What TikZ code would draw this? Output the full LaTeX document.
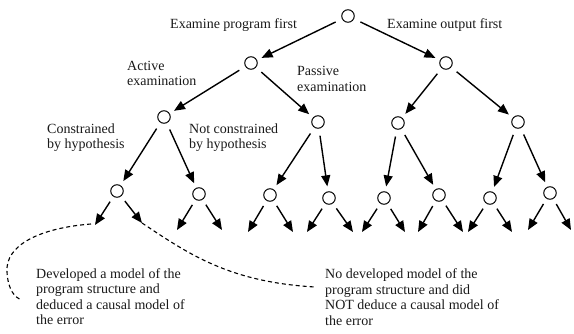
\documentclass[tikz,border=0pt]{standalone}
\usepackage{fontspec}
\setmainfont{Liberation Serif}
\usetikzlibrary{arrows.meta}
\begin{document}
\begin{tikzpicture}[x=1pt,y=-1pt,
  st/.style={circle,draw,line width=1pt,minimum size=12.5pt,inner sep=0pt},
  edge/.style={line width=1.4pt,-{Triangle[length=11pt,width=9pt]},shorten <=7pt,shorten >=5pt},
  leafedge/.style={line width=1.4pt,-{Triangle[length=11pt,width=9pt]},shorten <=6pt},
  lbl/.style={font=\fontsize{14}{15.5}\selectfont,inner sep=0pt,anchor=west,align=left,text=black!90},
  dashcurve/.style={line width=1.1pt,dash pattern=on 4pt off 3pt}
]
\useasboundingbox (0,0) rectangle (574,334);
% states
\node[st] (R) at (348,16) {};
\node[st] (A) at (251,63) {};
\node[st] (B) at (446,63) {};
\node[st] (AA) at (164,117) {};
\node[st] (AB) at (318,122) {};
\node[st] (BA) at (398,123) {};
\node[st] (BB) at (518,122) {};
\node[st] (AAA) at (117,191) {};
\node[st] (AAB) at (199,194) {};
\node[st] (ABA) at (270,195) {};
\node[st] (ABB) at (329,198) {};
\node[st] (BAA) at (384,198) {};
\node[st] (BAB) at (439,195) {};
\node[st] (BBA) at (490,198) {};
\node[st] (BBB) at (550,193) {};
% leaves
\coordinate (l1) at (95,225);  \coordinate (l2) at (142,223);
\coordinate (l3) at (177,230); \coordinate (l4) at (222,230);
\coordinate (l5) at (248,232); \coordinate (l6) at (293,232);
\coordinate (l7) at (307,232); \coordinate (l8) at (353,232);
\coordinate (l9) at (362,232); \coordinate (l10) at (405,232);
\coordinate (l11) at (418,232); \coordinate (l12) at (463,232);
\coordinate (l13) at (468,232); \coordinate (l14) at (512,232);
\coordinate (l15) at (528,230); \coordinate (l16) at (571,230);
% edges
\draw[edge] (R) -- (A);
\draw[edge] (R) -- (B);
\draw[edge] (A) -- (AA);
\draw[edge] (A) -- (AB);
\draw[edge] (B) -- (BA);
\draw[edge] (B) -- (BB);
\draw[edge] (AA) -- (AAA);
\draw[edge] (AA) -- (AAB);
\draw[edge] (AB) -- (ABA);
\draw[edge] (AB) -- (ABB);
\draw[edge] (BA) -- (BAA);
\draw[edge] (BA) -- (BAB);
\draw[edge] (BB) -- (BBA);
\draw[edge] (BB) -- (BBB);
\draw[leafedge] (AAA) -- (l1);  \draw[leafedge] (AAA) -- (l2);
\draw[leafedge] (AAB) -- (l3);  \draw[leafedge] (AAB) -- (l4);
\draw[leafedge] (ABA) -- (l5);  \draw[leafedge] (ABA) -- (l6);
\draw[leafedge] (ABB) -- (l7);  \draw[leafedge] (ABB) -- (l8);
\draw[leafedge] (BAA) -- (l9);  \draw[leafedge] (BAA) -- (l10);
\draw[leafedge] (BAB) -- (l11); \draw[leafedge] (BAB) -- (l12);
\draw[leafedge] (BBA) -- (l13); \draw[leafedge] (BBA) -- (l14);
\draw[leafedge] (BBB) -- (l15); \draw[leafedge] (BBB) -- (l16);
% labels
\node[lbl] (t1) at (170,25) {Examine program first};
\node[lbl] (t2) at (387,25) {Examine output first};
\node[lbl] (t3) at (127,73.5) {Active\\examination};
\node[lbl] (t4) at (297,79) {Passive\\examination};
\node[lbl] (t5) at (47,137.5) {Constrained\\by hypothesis};
\node[lbl] (t6) at (189,137.5) {Not constrained\\by hypothesis};
\node[lbl] (t7) at (36,296.5) {Developed a model of the\\program structure and\\deduced a causal model of\\the error};
\node[lbl] (t8) at (325,297) {No developed model of the\\program structure and did\\NOT deduce a causal model of\\the error};
% dashed curves
\coordinate (d1) at (91,224);
\coordinate (d2) at (22,300);
\coordinate (d3) at (315,287);
\draw[dashcurve] (d1) .. controls (40,228) and (5,245) .. (7,272) .. controls (8,290) and (15,298) .. (d2);
\draw[dashcurve] (l2) .. controls (190,255) and (230,282) .. (d3);
\end{tikzpicture}
\end{document}
